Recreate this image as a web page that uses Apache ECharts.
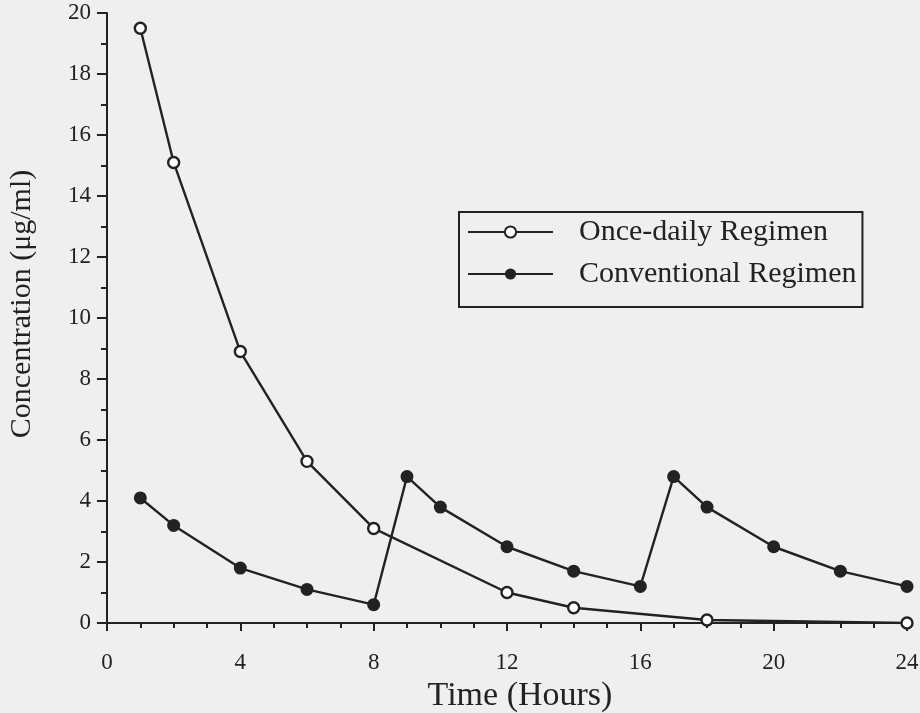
<!DOCTYPE html>
<html>
<head>
<meta charset="utf-8">
<script src="https://cdn.jsdelivr.net/npm/echarts@6/dist/echarts.min.js"></script>
<style>
html,body{margin:0;padding:0;background:#efefef;}
#chart{width:920px;height:713px;}
</style>
</head>
<body>
<div id="chart"></div>
<script>
const onceDailyHours = [1, 2, 4, 6, 8, 12, 14, 18, 24];
const onceDailyConc  = [19.5, 15.1, 8.9, 5.3, 3.1, 1.0, 0.5, 0.1, 0.0];
const conventionalHours = [1, 2, 4, 6, 8, 9, 10, 12, 14, 16, 17, 18, 20, 22, 24];
const conventionalConc  = [4.1, 3.2, 1.8, 1.1, 0.6, 4.8, 3.8, 2.5, 1.7, 1.2, 4.8, 3.8, 2.5, 1.7, 1.2];
const seriesNames = ['Once-daily Regimen', 'Conventional Regimen'];
const xTitle = 'Time (Hours)';
const yTitle = 'Concentration (μg/ml)';

const ink = '#222222';
const font = 'Liberation Serif';
const pairs = (xs, ys) => xs.map((x, i) => [x, ys[i]]);

const chart = echarts.init(document.getElementById('chart'), null, {renderer: 'canvas'});
chart.setOption({
  backgroundColor: '#efefef',
  animation: false,
  grid: {left: 107, right: 13, top: 13, bottom: 90, containLabel: false, outerBoundsMode: 'none'},
  legend: {
    orient: 'vertical',
    left: 459, top: 212,
    data: seriesNames,
    itemWidth: 85, itemHeight: 14, itemGap: 12,
    padding: [5, 6, 18, 8],
    borderColor: ink, borderWidth: 2,
    textStyle: {fontFamily: font, fontSize: 30, color: ink, padding: [0, 0, 0, 21]}
  },
  xAxis: {
    type: 'value', min: 0, max: 24, interval: 4,
    name: xTitle, nameLocation: 'middle', nameGap: 56,
    nameTextStyle: {fontFamily: font, fontSize: 34, color: ink, padding: [0, 0, 0, 26]},
    axisLine: {lineStyle: {color: ink, width: 2}},
    axisTick: {show: true, inside: false, length: 8, lineStyle: {color: ink, width: 2}},
    minorTick: {show: true, splitNumber: 4, length: 5, lineStyle: {color: ink, width: 2}},
    splitLine: {show: false},
    axisLabel: {fontFamily: font, fontSize: 23, color: ink, margin: 28}
  },
  yAxis: {
    type: 'value', min: 0, max: 20, interval: 2,
    name: yTitle, nameLocation: 'middle', nameGap: 70, nameRotate: 90,
    nameTextStyle: {fontFamily: font, fontSize: 30, color: ink, padding: [0, 0, 0, 28]},
    axisLine: {lineStyle: {color: ink, width: 2}},
    axisTick: {show: true, inside: false, length: 10, lineStyle: {color: ink, width: 2}},
    minorTick: {show: true, splitNumber: 2, length: 6, lineStyle: {color: ink, width: 2}},
    splitLine: {show: false},
    axisLabel: {fontFamily: font, fontSize: 23, color: ink, margin: 16}
  },
  series: [
    {
      name: seriesNames[0], type: 'line',
      data: pairs(onceDailyHours, onceDailyConc),
      symbol: 'circle', symbolSize: 11,
      lineStyle: {color: ink, width: 2.4},
      itemStyle: {color: '#ffffff', borderColor: ink, borderWidth: 2.4},
      z: 3
    },
    {
      name: seriesNames[1], type: 'line',
      data: pairs(conventionalHours, conventionalConc),
      symbol: 'circle', symbolSize: 13,
      lineStyle: {color: ink, width: 2.4},
      itemStyle: {color: ink, borderColor: ink, borderWidth: 0},
      z: 4
    }
  ]
});
</script>
</body>
</html>
